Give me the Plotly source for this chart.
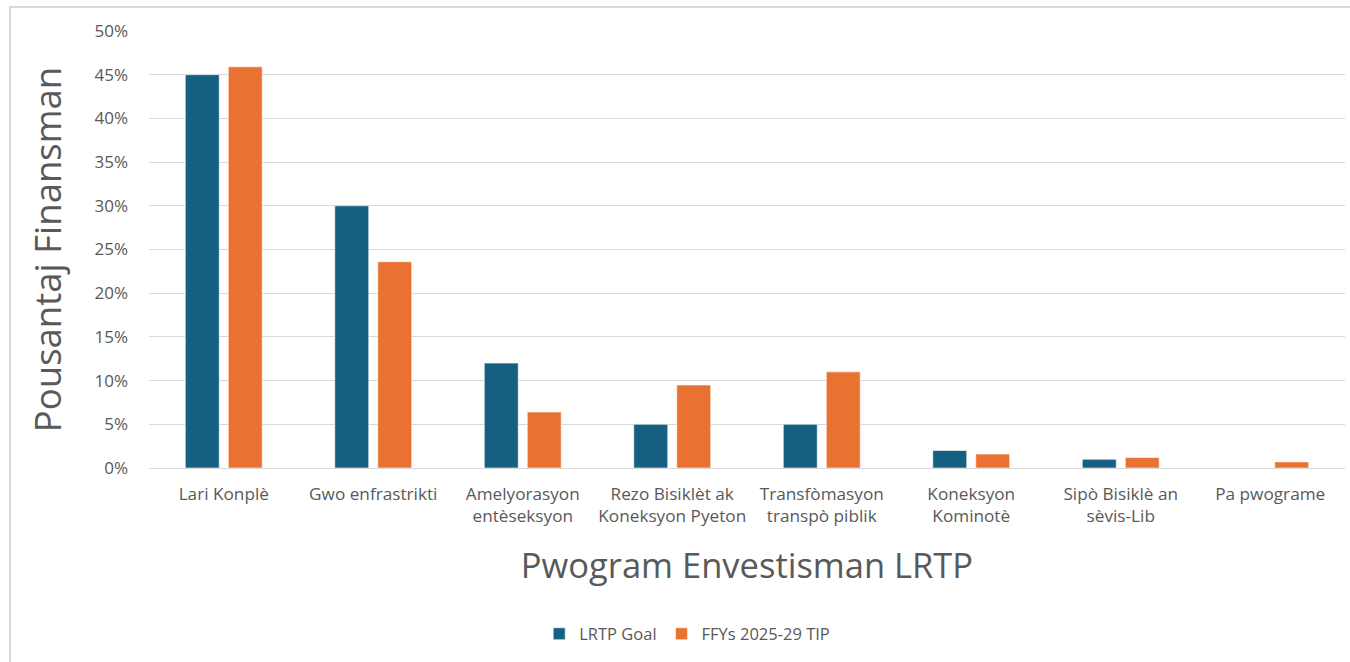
import plotly.graph_objects as go

categories = [
    "Lari Konplè",
    "Gwo enfrastrikti",
    "Amelyorasyon<br>entèseksyon",
    "Rezo Bisiklèt ak<br>Koneksyon Pyeton",
    "Transfòmasyon<br>transpò piblik",
    "Koneksyon<br>Kominotè",
    "Sipò Bisiklè an<br>sèvis-Lib",
    "Pa pwograme",
]
lrtp_goal = [0.45, 0.30, 0.12, 0.05, 0.05, 0.02, 0.01, 0.0]
ffys_tip = [0.459, 0.236, 0.064, 0.095, 0.110, 0.016, 0.012, 0.007]
y_ticks = [0, 0.05, 0.10, 0.15, 0.20, 0.25, 0.30, 0.35, 0.40, 0.45, 0.50]

FONT = "Open Sans"
TXT = "#595959"

fig = go.Figure()
fig.add_trace(go.Bar(
    name="LRTP Goal", x=categories, y=lrtp_goal,
    marker=dict(color="#156082", line=dict(color="rgba(255,255,255,0.6)", width=1)),
))
fig.add_trace(go.Bar(
    name="FFYs 2025-29 TIP", x=categories, y=ffys_tip,
    marker=dict(color="#E97132", line=dict(color="rgba(255,255,255,0.6)", width=1)),
))

fig.update_layout(
    width=1350, height=662,
    margin=dict(l=149, r=5, t=31, b=194),
    paper_bgcolor="white", plot_bgcolor="white",
    barmode="group", bargap=0.425, bargroupgap=0.21,
    font=dict(family=FONT, color=TXT, size=17),
    showlegend=True,
    legend=dict(orientation="h", x=0.45, xanchor="center", y=-0.38, yanchor="middle",
                font=dict(size=16.5, color=TXT), traceorder="normal", itemwidth=30),
    xaxis=dict(
        title=dict(text="Pwogram Envestisman LRTP", font=dict(size=34.5, color=TXT), standoff=27),
        showline=True, linecolor="#d9d9d9", linewidth=1, ticks="",
        tickfont=dict(size=17.2, color=TXT), automargin=False, ticklabelstandoff=10,
    ),
    yaxis=dict(
        title=dict(text="Pousantaj Finansman", font=dict(size=36.5, color=TXT), standoff=21),
        range=[0, 0.5], tickvals=y_ticks, tickformat=".0%",
        showgrid=True, gridcolor="#d9d9d9", gridwidth=1, zeroline=False,
        tickfont=dict(size=17, color=TXT), ticklabelstandoff=20, automargin=False,
    ),
    shapes=[dict(type="rect", xref="paper", yref="paper",
                 x0=-0.1162, x1=1.05, y0=-0.5, y1=1.055,
                 line=dict(color="#d9d9d9", width=2), fillcolor="rgba(0,0,0,0)", layer="below")],
)

fig.write_html(
    "out.html",
    config={"displayModeBar": False},
    post_script="document.body.style.margin='0';document.body.style.overflow='hidden';",
)
